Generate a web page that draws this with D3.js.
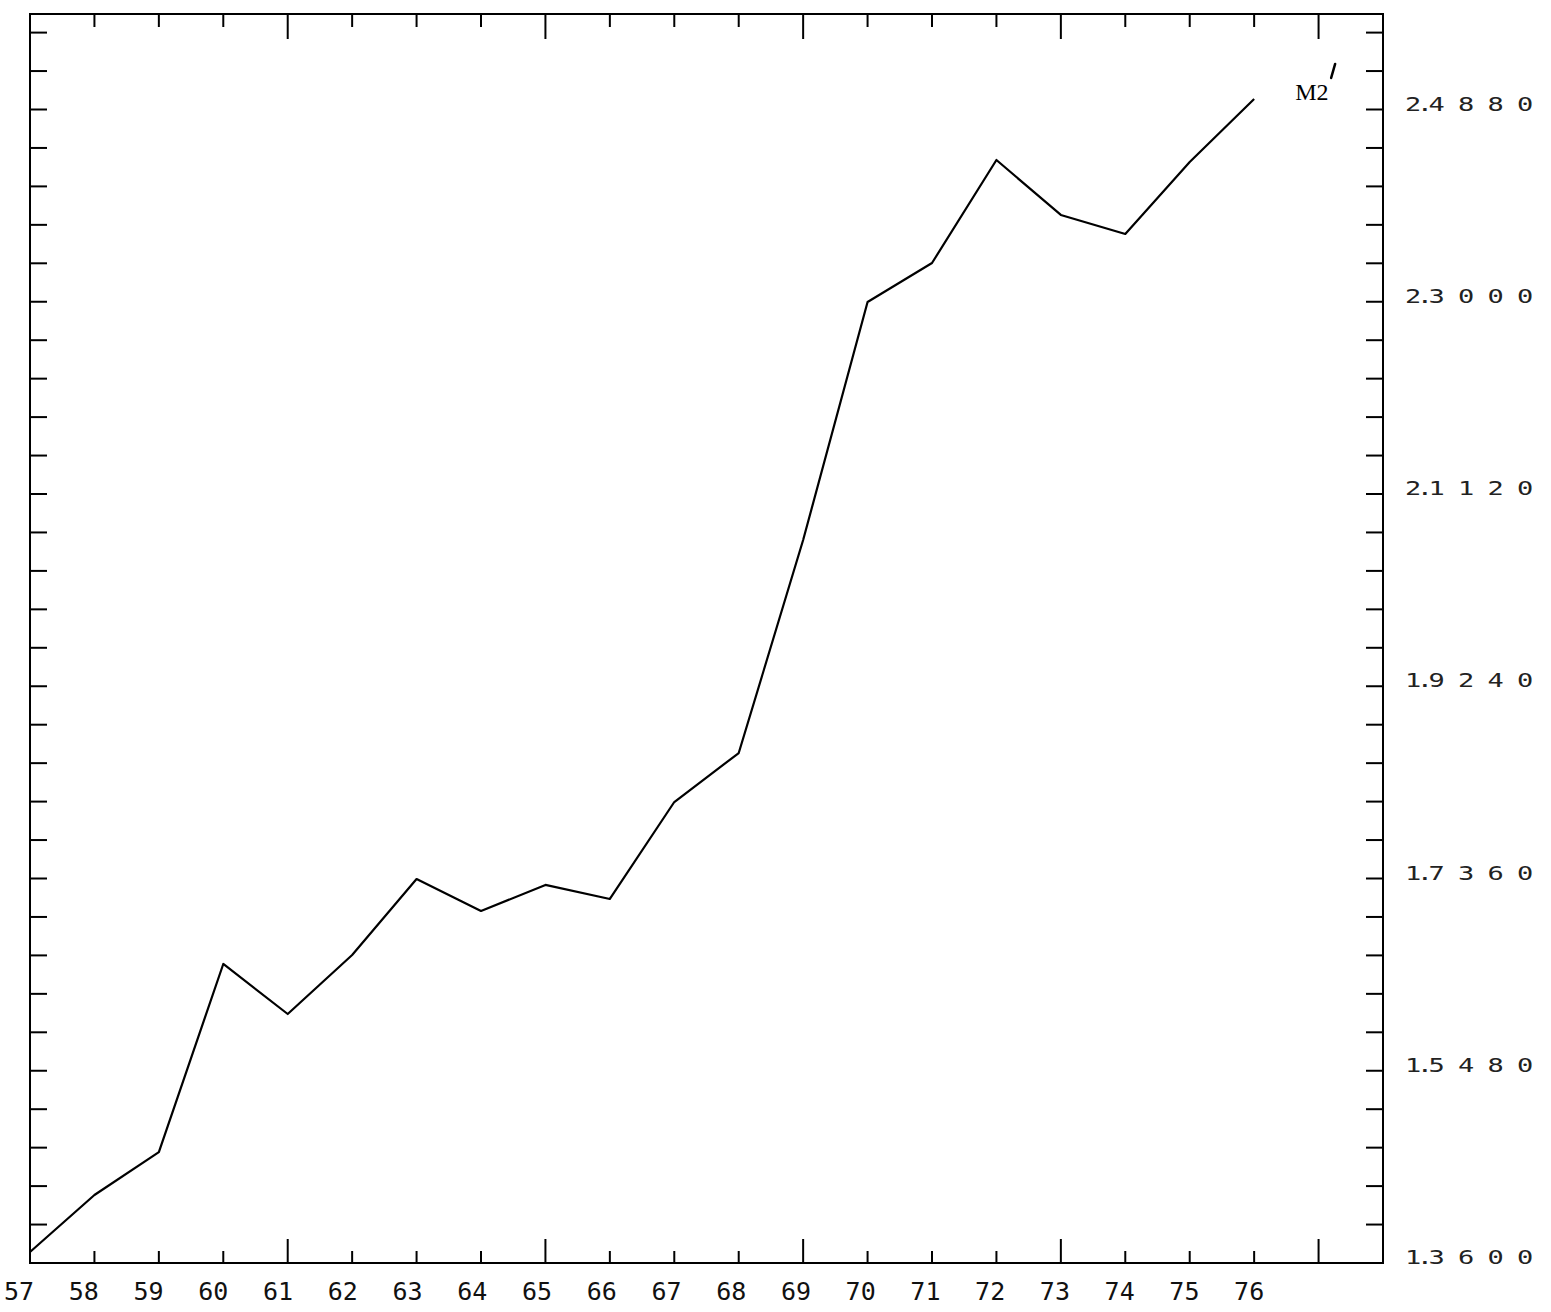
<!DOCTYPE html>
<html>
<head>
<meta charset="utf-8">
<script src="https://cdn.jsdelivr.net/npm/d3@7"></script>
<style>
  html, body { margin: 0; padding: 0; background: #fff; }
  svg { display: block; }
</style>
</head>
<body>
<script>
// ---- data ----
const years  = [1957,1958,1959,1960,1961,1962,1963,1964,1965,1966,1967,1968,1969,1970,1971,1972,1973,1974,1975,1976];
const values = [1.3708,1.4265,1.4685,1.6524,1.6035,1.6612,1.7355,1.7042,1.7297,1.7160,1.8108,1.8587,2.0670,2.2998,2.3379,2.4386,2.3849,2.3663,2.4367,2.4983];
const yearLabels = ["57","58","59","60","61","62","63","64","65","66","67","68","69","70","71","72","73","74","75","76"];
const yLabelValues = [1.3600,1.5480,1.7360,1.9240,2.1120,2.3000,2.4880];
const yLabelTexts  = ["1.3600","1.5480","1.7360","1.9240","2.1120","2.3000","2.4880"];
const seriesName = "M2";

// ---- layout ----
const W = 1551, H = 1312;
const mLeft = 30, mRight = 1383, mTop = 14, mBottom = 1263;
const yStep = 0.0376;

const svg = d3.select("body").append("svg").attr("width", W).attr("height", H);

const x = d3.scaleLinear().domain([1957, 1978]).range([mLeft, mRight]);
const yMax = 1.36 + (mBottom - mTop) / 38.45 * yStep;
const y = d3.scaleLinear().domain([1.36, yMax]).range([mBottom, mTop]);

// frame
svg.append("rect")
  .attr("x", mLeft).attr("y", mTop)
  .attr("width", mRight - mLeft).attr("height", mBottom - mTop)
  .attr("fill", "none").attr("stroke", "#000").attr("stroke-width", 2);

// x ticks (top and bottom, inward), long every 4 years from 1957
const xTicks = d3.range(1958, 1978);
const tickLen = yr => ((yr - 1957) % 4 === 0 ? 24 : 12);
svg.append("g").selectAll("line").data(xTicks).join("line")
  .attr("x1", d => x(d)).attr("x2", d => x(d))
  .attr("y1", mBottom).attr("y2", d => mBottom - tickLen(d))
  .attr("stroke", "#000").attr("stroke-width", 2);
svg.append("g").selectAll("line").data(xTicks).join("line")
  .attr("x1", d => x(d)).attr("x2", d => x(d))
  .attr("y1", mTop).attr("y2", d => mTop + tickLen(d) + 1)
  .attr("stroke", "#000").attr("stroke-width", 2);

// y ticks (left and right, inward)
const yTicks = d3.range(1, 33).map(i => 1.36 + i * yStep);
svg.append("g").selectAll("line").data(yTicks).join("line")
  .attr("x1", mLeft).attr("x2", mLeft + 17)
  .attr("y1", d => y(d)).attr("y2", d => y(d))
  .attr("stroke", "#000").attr("stroke-width", 2);
svg.append("g").selectAll("line").data(yTicks).join("line")
  .attr("x1", mRight).attr("x2", mRight - 17)
  .attr("y1", d => y(d)).attr("y2", d => y(d))
  .attr("stroke", "#000").attr("stroke-width", 2);

// bottom year labels
svg.append("g").selectAll("text").data(years).join("text")
  .attr("x", (d, i) => x(d) - 11 + 6 * i / 19)
  .attr("y", 1300)
  .attr("text-anchor", "middle")
  .attr("font-family", "DejaVu Sans Mono")
  .attr("font-size", 25)
  .attr("fill", "#111")
  .text((d, i) => yearLabels[i]);

// right value labels (plotter style: wide-spaced digits)
const rl = svg.append("g").selectAll("text").data(yLabelValues).join("text")
  .attr("transform", d => `translate(1405,${y(d) + 1}) scale(1.35,1)`)
  .attr("font-family", "DejaVu Sans Mono")
  .attr("font-size", 20)
  .attr("fill", "#222");
rl.append("tspan").attr("letter-spacing", -3.3).text((d, i) => yLabelTexts[i].slice(0, 2));
rl.append("tspan").attr("letter-spacing", 9.8).text((d, i) => yLabelTexts[i].slice(2));

// series line
const line = d3.line().x((d, i) => x(years[i])).y(d => y(d));
svg.append("path").datum(values)
  .attr("d", line)
  .attr("fill", "none").attr("stroke", "#000")
  .attr("stroke-width", 2.2).attr("stroke-linejoin", "round");

// series label M2'
const lastX = x(years[years.length - 1]);
const lastY = y(values[values.length - 1]);
svg.append("text")
  .attr("x", lastX + 41).attr("y", lastY + 1)
  .attr("font-family", "Liberation Serif")
  .attr("font-size", 24)
  .attr("fill", "#000")
  .text(seriesName);
svg.append("line")
  .attr("x1", lastX + 77).attr("y1", lastY - 21)
  .attr("x2", lastX + 81).attr("y2", lastY - 35)
  .attr("stroke", "#000").attr("stroke-width", 2.5).attr("stroke-linecap", "round");
</script>
</body>
</html>
